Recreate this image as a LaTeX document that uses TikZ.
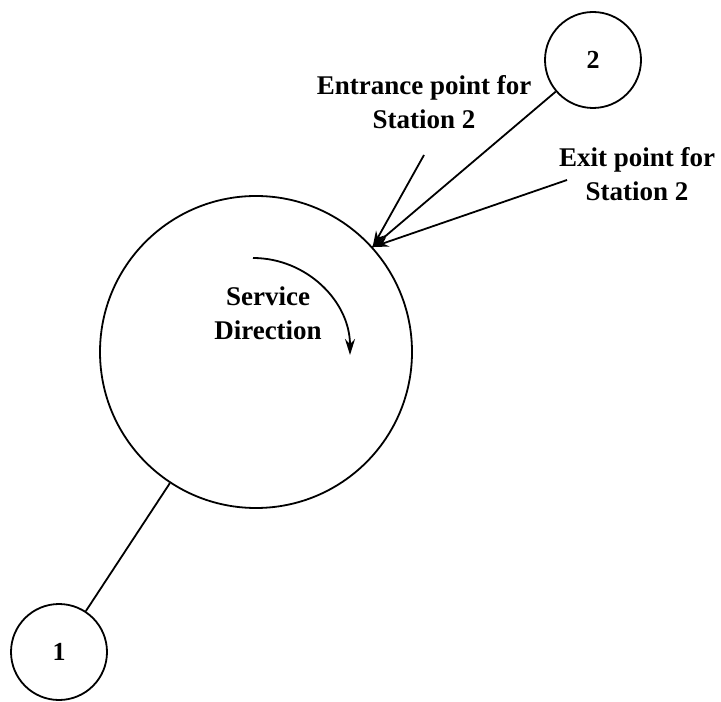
\documentclass[tikz,border=0pt]{standalone}
\usepackage{fontspec}
\setmainfont{Liberation Serif}
\usetikzlibrary{arrows.meta}

\begin{document}
\begin{tikzpicture}[x=0.5pt,y=0.5pt,line width=0.9pt,
    station/.style={draw,circle,inner sep=0pt,minimum size=48pt,font=\bfseries\fontsize{13}{16}\selectfont},
    lbl/.style={align=center,font=\bfseries\fontsize{13.5}{17}\selectfont},
    pointer/.style={-{Stealth[length=8pt,width=5pt]}}]
          \useasboundingbox (0,0) rectangle (721,701);
          %\draw[very thin,lightgray] (0,0) grid[step=50] (721,701);
          \node[draw,circle,inner sep=0pt,minimum size=156pt] (main) at (256,349) {};
          \node[station] (st1) at (59,49) {1};
          \node[station] (st2) at (593,641) {2};
          \draw (main) -- (st1);
          \coordinate (entry) at (main.42);
          \draw (st2) -- (entry);
          \node[lbl] (entlbl) at (424,599) {Entrance point for\\Station 2};
          \node[lbl] (exlbl) at (637,527) {Exit point for\\Station 2};
          \coordinate (enttail) at (424,546);
          \coordinate (extail) at (567,521);
          \draw[pointer] (enttail) -- (entry);
          \draw[pointer] (extail) -- (entry);
          \node[lbl] (svc) at (268,388) {Service\\Direction};
          \draw[pointer] (253,443) arc[start angle=90,end angle=0,radius=97];
        \end{tikzpicture}
\end{document}
